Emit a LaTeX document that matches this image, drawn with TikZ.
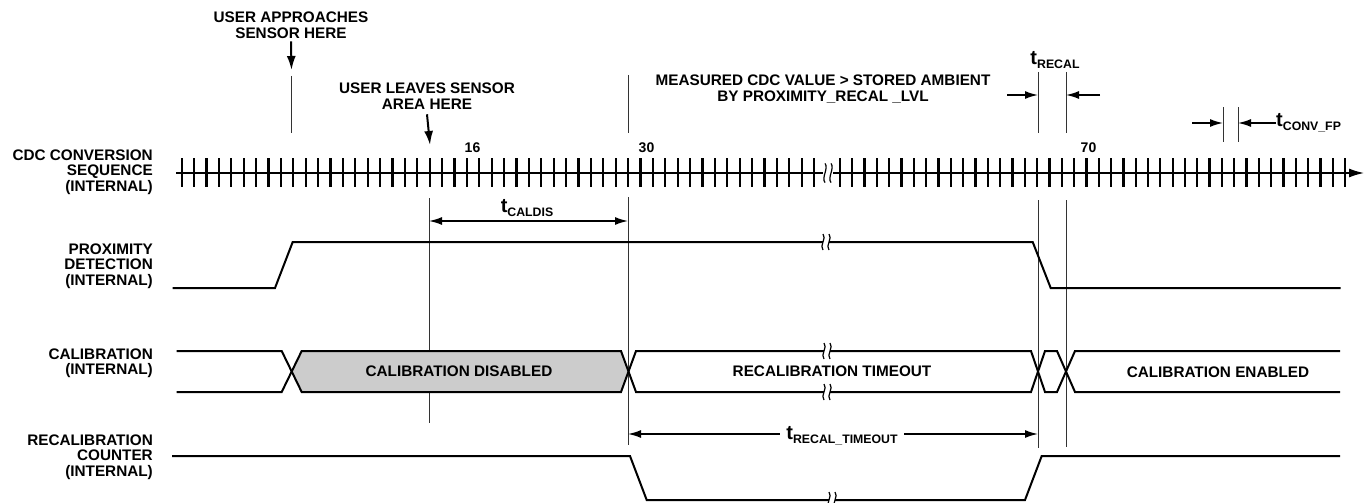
\documentclass[tikz,border=0pt]{standalone}
\usepackage{fontspec}
\setmainfont{Liberation Sans}
\usetikzlibrary{arrows.meta}

\newcommand{\tname}[1]{{\fontsize{20}{20}\selectfont t}\raisebox{-4pt}{\fontsize{12.3}{12.3}\selectfont #1}}

\tikzset{brk/.pic={
  \fill[white] (-3,-7) rectangle (3,7);
  \foreach \dx in {-3,3}
    \draw[line width=1.2pt] (\dx,-8) .. controls ({\dx+4},-4) and ({\dx-4},4) .. (\dx,8);
}}

\begin{document}
\begin{tikzpicture}[x=1pt,y=-1pt,>={Latex[length=13pt,width=8pt]},
  every node/.style={font=\bfseries\fontsize{15.3}{15.5}\selectfont,inner sep=0pt},
  lbl/.style={anchor=east,align=right},
  sig/.style={line width=2pt},
  guide/.style={line width=0.9pt,black!80},
  ticmark/.style={line width=2.3pt},
  dim/.style={line width=1.6pt},
  down/.style={line width=2pt,-{Latex[length=14pt,width=9pt]}},
  num/.style={font=\bfseries\fontsize{14}{14}\selectfont}]
\useasboundingbox (0,0) rectangle (1369,503);

\node[lbl] (cdc) at (153,172) {CDC CONVERSION\\SEQUENCE\\(INTERNAL)};
\node[lbl] (prox) at (153,266) {PROXIMITY\\DETECTION\\(INTERNAL)};
\node[lbl] (cal) at (153,363) {CALIBRATION\\(INTERNAL)};
\node[lbl] (cnt) at (153,457) {RECALIBRATION\\COUNTER\\(INTERNAL)};

\node[align=center] (appr) at (291,25) {USER APPROACHES\\SENSOR HERE};
\node[align=center] (leave) at (427,96) {USER LEAVES SENSOR\\AREA HERE};
\node[align=center] (meas) at (823,89) {MEASURED CDC VALUE > STORED AMBIENT\\BY PROXIMITY\_RECAL \_LVL};

\coordinate (apprtip) at (291.5,70);
\coordinate (leavetip) at (430,145);
\draw[down] ([yshift=-3pt]appr.south) -- (apprtip);
\draw[down] ([yshift=-5pt]leave.south) -- (leavetip);

\draw[guide] (291.5,76) -- (291.5,133);
\draw[guide] (628,75) -- (628,133);
\draw[guide] (1038,72) -- (1038,133);
\draw[guide] (1066,72) -- (1066,133);
\draw[guide] (1223,107) -- (1223,142);
\draw[guide] (1238,107) -- (1238,142);
\draw[guide] (429,198) -- (429,423);
\draw[guide] (628,197) -- (628,445);
\draw[guide] (1038,200) -- (1038,448);
\draw[guide] (1066,200) -- (1066,447);

\draw[line width=1.3pt] (176,173) -- (823,173);
\draw[line width=1.3pt,-{Latex[length=15pt,width=9pt]}] (833,173) -- (1364,173);
\foreach \k in {0,...,51}
  \draw[ticmark] ({181.7+12.4*\k},158) -- ++(0,29);
\foreach \k in {0,...,41}
  \draw[ticmark] ({840+12.32*\k},158) -- ++(0,29);
\pic[yscale=1.2] at (828,173) {brk};

\node[num] (n16) at (472.5,148) {16};
\node[num] (n30) at (646.5,148) {30};
\node[num] (n70) at (1088.5,148) {70};

\node (trecal) at (1055,60) {\tname{RECAL}};
\coordinate (rl) at (1007,95);
\coordinate (rr) at (1100,95);
\draw[dim,->] (rl) -- (1038,95);
\draw[dim,->] (rr) -- (1066,95);

\node[anchor=west] (tconv) at (1276,123) {\tname{CONV\_FP}};
\coordinate (cl) at (1192,123);
\draw[dim,->] (cl) -- (1223,123);
\draw[dim,->] (tconv.west) -- (1238,123);

\coordinate (cd1) at (429,221);
\coordinate (cd2) at (628,221);
\draw[dim,<->] (cd1) -- (cd2);
\node (tcaldis) at (527,208) {\tname{CALDIS}};

\draw[sig] (172.7,288) -- (275,288) -- (292.7,242) -- (1032.7,242) -- (1050.7,288) -- (1340.7,288);
\pic at (826,242) {brk};

\fill[black!20] (291.7,371.5) -- (301.7,351) -- (621,351) -- (628,371.5) -- (621,392) -- (301.7,392) -- cycle;
\draw[sig] (176.7,351) -- (281.7,351) -- (301.7,392) -- (621,392) -- (636,351) -- (1031,351) -- (1045,392) -- (1057,392) -- (1075,351) -- (1340,351);
\draw[sig] (176.7,392) -- (281.7,392) -- (301.7,351) -- (621,351) -- (636,392) -- (1031,392) -- (1045,351) -- (1057,351) -- (1075,392) -- (1340,392);
\pic at (827,351) {brk};
\pic at (827,392) {brk};
\node (caldis) at (459,371.5) {CALIBRATION DISABLED};
\node (recto) at (832,371.5) {RECALIBRATION TIMEOUT};
\node (calen) at (1218,372) {CALIBRATION ENABLED};

\coordinate (to1) at (628,434);
\coordinate (to2) at (1038,434);
\draw[dim,<->] (to1) -- (to2);
\node[fill=white,inner xsep=6pt,inner ysep=2pt] (tto) at (842,436) {\tname{RECAL\_TIMEOUT}};

\draw[sig] (172,456) -- (630,456) -- (646.7,500) -- (1025,500) -- (1041.7,456) -- (1340,456);
\pic at (832,500) {brk};
\end{tikzpicture}
\end{document}
